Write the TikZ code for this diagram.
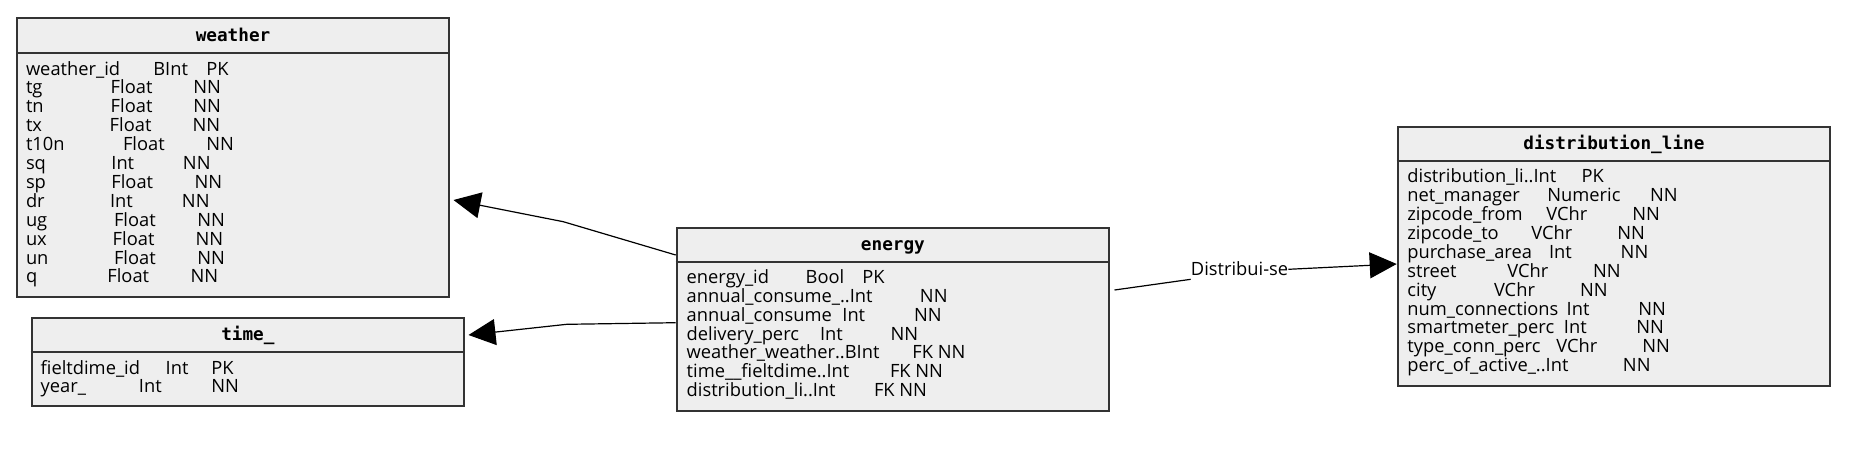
\documentclass[tikz,border=0pt]{standalone}
\usepackage{fontspec}
\setmainfont{Open Sans}
\newfontfamily\hdrfont{DejaVu Sans Mono}
\usetikzlibrary{arrows.meta}
\definecolor{tblfill}{HTML}{EEEEEE}
\definecolor{tblline}{HTML}{333333}
\newcommand\fld[5]{\hbox{\hbox to 0pt{#1\hss}\hbox to 0pt{\hskip#2pt\relax #3\hss}\hbox to 0pt{\hskip#4pt\relax #5\hss}}}
\newcommand\rows[1]{\vtop{\baselineskip=18.9pt\lineskiplimit=-100pt\lineskip=0pt #1}}
\newcommand\bodyfont{\fontsize{18.3}{18.9}\selectfont}
\tikzset{
  tbl/.style={draw=tblline, fill=tblfill, line width=1.8pt, inner sep=0pt, anchor=north west},
  sepl/.style={draw=tblline, line width=1.8pt},
  hdr/.style={font=\hdrfont\bfseries\fontsize{17.7}{20}\selectfont, anchor=base, inner sep=0pt},
  body/.style={font=\bodyfont, anchor=base west, inner sep=0pt},
  lbl/.style={font=\bodyfont, anchor=base west, inner sep=0pt},
  conn/.style={line width=1.2pt},
  edge/.style={conn, -{Triangle[length=27pt,width=26pt]}}
}
\begin{document}
\begin{tikzpicture}[x=1pt,y=-1pt]
\useasboundingbox (0,0) rectangle (1859,459);
% tables
\node[tbl, minimum width=432.3pt, minimum height=278.4pt] (weather) at (16,17.3) {};
\node[tbl, minimum width=432.6pt, minimum height=88.3pt] (time) at (30.7,316.7) {};
\node[tbl, minimum width=432.6pt, minimum height=183.3pt] (energy) at (675.7,226.7) {};
\node[tbl, minimum width=432.6pt, minimum height=259.3pt] (dist) at (1396.7,125.7) {};
\foreach \t in {weather,time,energy,dist}{
  \draw[sepl] ([yshift=-35.5pt]\t.north west) -- ([yshift=-35.5pt]\t.north east);
}
% headers
\node[hdr] (weatherhdr) at ([yshift=-24.5pt]weather.north) {weather};
\node[hdr] (timehdr) at ([yshift=-24pt]time.north) {time\_};
\node[hdr] (energyhdr) at ([yshift=-24pt]energy.north) {energy};
\node[hdr] (disthdr) at ([yshift=-24pt]dist.north) {distribution\_line};
% rows
\node[body] (weatherrows) at (25.3,75) {\rows{%
\fld{weather\_id}{127.4}{BInt}{180.4}{PK}
\fld{tg}{84.7}{Float}{167.4}{NN}
\fld{tn}{84.7}{Float}{167.4}{NN}
\fld{tx}{83.7}{Float}{166.7}{NN}
\fld{t10n}{97}{Float}{180.4}{NN}
\fld{sq}{85.4}{Int}{157}{NN}
\fld{sp}{85.4}{Float}{168.7}{NN}
\fld{dr}{84}{Int}{156}{NN}
\fld{ug}{88}{Float}{171.4}{NN}
\fld{ux}{86.7}{Float}{169.7}{NN}
\fld{un}{88}{Float}{171.4}{NN}
\fld{q}{81.4}{Float}{164.7}{NN}}};
\node[body] (timerows) at (40,374) {\rows{%
\fld{fieltdime\_id}{125}{Int}{170.7}{PK}
\fld{year\_}{98.3}{Int}{170.7}{NN}}};
\node[body] (energyrows) at (686,283.3) {\rows{%
\fld{energy\_id}{119}{Bool}{175.7}{PK}
\fld{annual\_consume\_..Int}{0}{}{233.3}{NN}
\fld{annual\_consume}{155.7}{Int}{227.3}{NN}
\fld{delivery\_perc}{133.3}{Int}{204}{NN}
\fld{weather\_weather..BInt}{0}{}{225.7}{FK NN}
\fld{time\_\_fieltdime..Int}{0}{}{203.3}{FK NN}
\fld{distribution\_li..Int}{0}{}{187.3}{FK NN}}};
\node[body] (distrows) at (1406.7,182.7) {\rows{%
\fld{distribution\_li..Int}{0}{}{174.3}{PK}
\fld{net\_manager}{140}{Numeric}{242.6}{NN}
\fld{zipcode\_from}{139}{VChr}{225}{NN}
\fld{zipcode\_to}{124}{VChr}{210}{NN}
\fld{purchase\_area}{141.6}{Int}{213.3}{NN}
\fld{street}{100}{VChr}{185.6}{NN}
\fld{city}{86.6}{VChr}{172.6}{NN}
\fld{num\_connections}{159.3}{Int}{231}{NN}
\fld{smartmeter\_perc}{156.6}{Int}{229}{NN}
\fld{type\_conn\_perc}{149}{VChr}{235}{NN}
\fld{perc\_of\_active\_..Int}{0}{}{215.6}{NN}}};
% connectors
\coordinate (bend1) at (563.3,221.7);
\coordinate (bend2) at (566.7,324.3);
\draw[edge] ([yshift=-28.3pt]energy.north west) -- (bend1) -- ([xshift=3.4pt,yshift=-182.7pt]weather.north east);
\draw[edge] ([yshift=-96pt]energy.north west) -- (bend2) -- ([xshift=3.4pt,yshift=-18.3pt]time.north east);
\node[lbl] (rel) at (1190.7,275) {Distribui-se};
\draw[conn] ([xshift=4.4pt,yshift=-63.3pt]energy.north east) -- ([yshift=-4.3pt]rel.base west);
\draw[edge] ([yshift=5.7pt]rel.base east) -- ([yshift=-138.3pt]dist.north west);
\end{tikzpicture}
\end{document}
